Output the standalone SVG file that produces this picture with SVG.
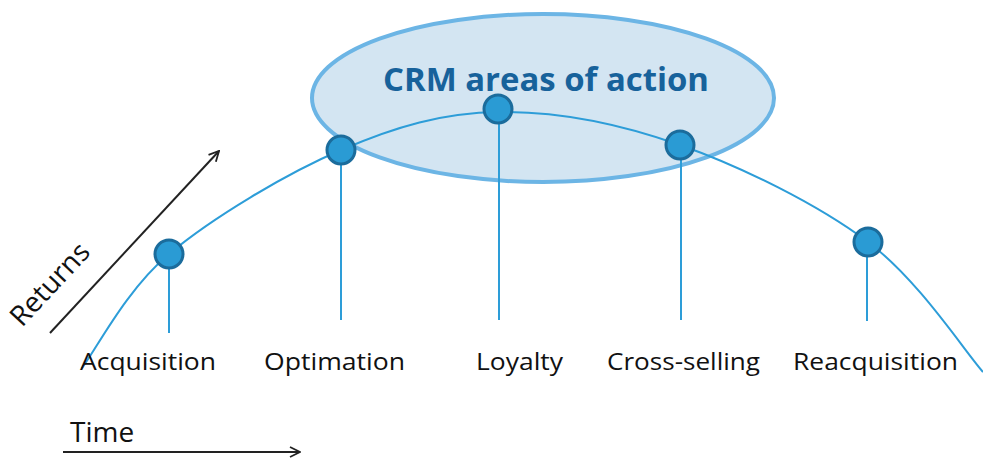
<svg xmlns="http://www.w3.org/2000/svg" width="983" height="460" viewBox="0 0 983 460">
<style>
.lbl{font-family:"Open Sans","Noto Sans","Liberation Sans",sans-serif;font-size:24px;fill:#111}
.ax{font-family:"Open Sans","Noto Sans","Liberation Sans",sans-serif;font-size:28px;fill:#111}
.dot{fill:#2a9bd4;stroke:#1b6c9c;stroke-width:3}
.ln{fill:none;stroke:#2d9dd8;stroke-width:2}
.arr{fill:none;stroke:#222;stroke-width:2}
</style>
<defs>
<marker id="chev" viewBox="0 0 12 12" refX="11" refY="6" markerWidth="12" markerHeight="12" markerUnits="userSpaceOnUse" orient="auto">
<path d="M1 1 L11 6 L1 11" fill="none" stroke="#222" stroke-width="1.8"/>
</marker>
</defs>
<rect width="983" height="460" fill="#fff"/>
<g id="crm-areas">
<ellipse cx="543" cy="98" rx="231" ry="84" fill="#d3e5f2" stroke="#6cb5e5" stroke-width="4"/>
</g>
<g id="connectors">
<path class="ln" d="M82 368 C96.5 349 125.8 290.3 169 254 C212.2 217.7 286 173.7 341 150 C396 126.3 442.5 112.8 499 112 C555.5 111.2 618.5 123.3 680 145 C741.5 166.7 817.5 204.2 868 242 C918.5 279.8 963.8 350.3 983 372"/>
<line class="ln" x1="169" y1="254" x2="169" y2="333"/>
<line class="ln" x1="341" y1="151" x2="341" y2="320"/>
<line class="ln" x1="499" y1="109" x2="499" y2="320"/>
<line class="ln" x1="681" y1="145" x2="681" y2="320"/>
<line class="ln" x1="867" y1="242" x2="867" y2="321"/>
<line class="arr" x1="50" y1="333" x2="219" y2="151" marker-end="url(#chev)"/>
<line class="arr" x1="63" y1="452" x2="300" y2="452" marker-end="url(#chev)"/>
</g>
<g id="acquisition">
<circle class="dot" cx="169" cy="254" r="14"/>
<text class="lbl" x="80" y="370" textLength="136" lengthAdjust="spacingAndGlyphs">Acquisition</text>
</g>
<g id="optimation">
<circle class="dot" cx="341" cy="150" r="14"/>
<text class="lbl" x="264" y="370" textLength="141" lengthAdjust="spacingAndGlyphs">Optimation</text>
</g>
<g id="loyalty">
<circle class="dot" cx="498" cy="109" r="14"/>
<text class="lbl" x="476" y="370" textLength="87" lengthAdjust="spacingAndGlyphs">Loyalty</text>
</g>
<g id="cross-selling">
<circle class="dot" cx="680" cy="145" r="14"/>
<text class="lbl" x="607" y="370" textLength="153" lengthAdjust="spacingAndGlyphs">Cross-selling</text>
</g>
<g id="reacquisition">
<circle class="dot" cx="868" cy="242" r="14"/>
<text class="lbl" x="793" y="370" textLength="165" lengthAdjust="spacingAndGlyphs">Reacquisition</text>
</g>
<g id="crm-title">
<text x="383" y="91" font-family="'Open Sans','Noto Sans','Liberation Sans',sans-serif" font-size="33" font-weight="bold" fill="#17629b" textLength="326" lengthAdjust="spacingAndGlyphs">CRM areas of action</text>
</g>
<g id="returns-axis">
<text class="ax" font-size="30" transform="translate(22 328) rotate(-47)">Returns</text>
</g>
<g id="time-axis">
<text class="ax" x="70" y="442">Time</text>
</g>
</svg>
